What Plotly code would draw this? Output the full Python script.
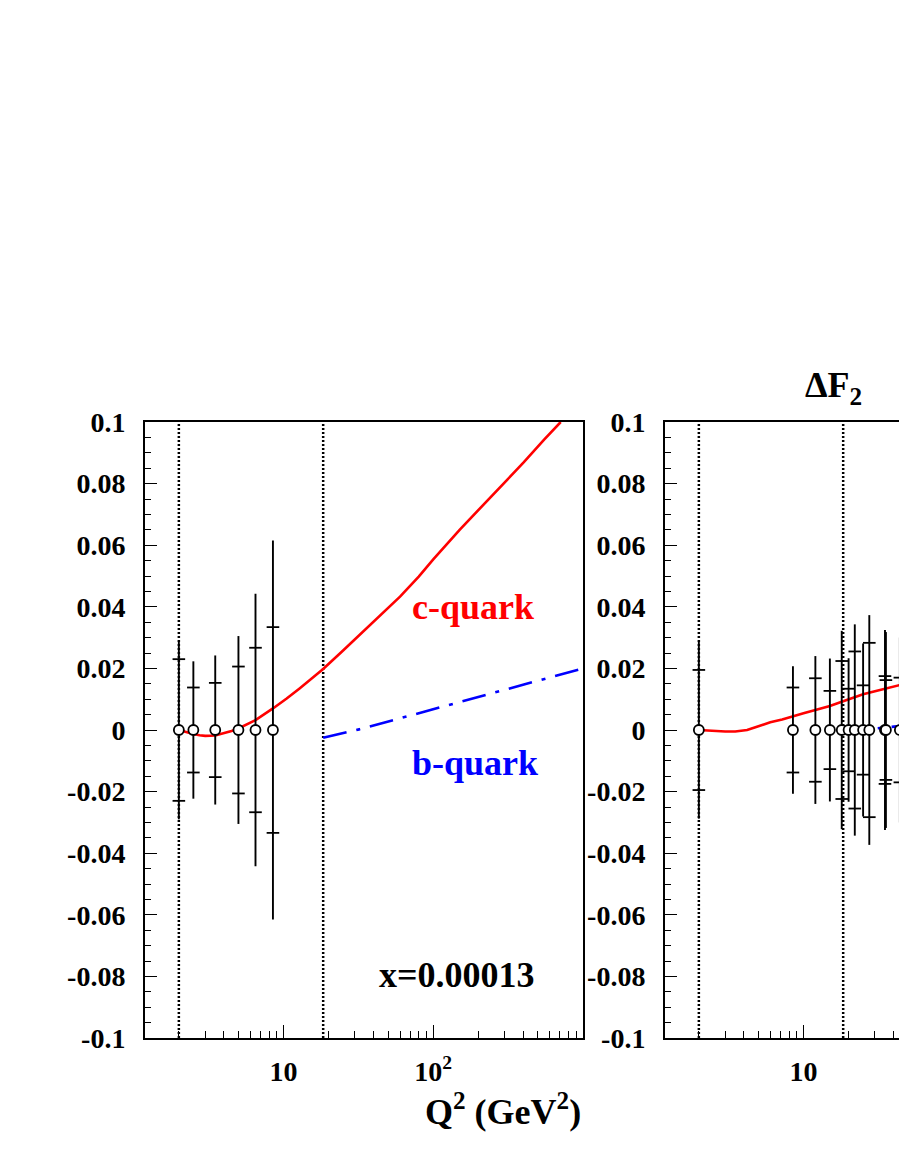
import numpy as np
import plotly.graph_objects as go

# ---------------- data ----------------
# left panel (x = 0.00013)
q2_left = [2.0, 2.5, 3.5, 5.0, 6.5, 8.5]
tot_left = [0.029, 0.0223, 0.0242, 0.0305, 0.0442, 0.0615]
stat_left = [0.023, 0.0138, 0.0153, 0.0206, 0.0267, 0.0334]
val_left = [0.0, 0.0, 0.0, 0.0, 0.0, 0.0]

c_q2_left = [2.0, 2.25, 2.5, 2.75, 3.0, 3.5, 4.0, 4.5, 5.0, 6.5, 8.5, 10.5, 12.8, 15.5, 18.4,
             25, 32, 45, 60, 80, 100, 150, 200, 285, 400, 550, 710]
c_left = [0.0, -0.0008, -0.0013, -0.0017, -0.0019, -0.0018, -0.0011, -0.0003, 0.0005, 0.0032,
          0.007, 0.0102, 0.0135, 0.0168, 0.0198, 0.0258, 0.0308, 0.0376, 0.0433, 0.0498,
          0.0554, 0.065, 0.0714, 0.079, 0.0868, 0.0943, 0.1]
b_q2_left = [18.4, 32, 141, 624, 1000]
b_left = [-0.0025, 0.0002, 0.0087, 0.0173, 0.020]

# right panel (cut off at the page edge)
q2_right = [2.0, 8.5, 12.0, 15.0, 18.0, 20.0, 22.0, 25.0, 27.5, 35.0, 35.5, 44.0]
tot_right = [0.0288, 0.0207, 0.024, 0.0232, 0.0322, 0.0233, 0.0343, 0.0281, 0.0373, 0.0325, 0.0318, 0.030]
stat_right = [0.0195, 0.0138, 0.0168, 0.0127, 0.0224, 0.0134, 0.0255, 0.0145, 0.0283, 0.0175, 0.0162, 0.017]
val_right = [0.0] * len(q2_right)

c_q2_right = [2.0, 2.5, 3.0, 3.5, 4.2, 5.0, 6.0, 7.2, 8.5, 10.0, 12.0, 15.0, 18.0, 21.0,
              25.0, 30.0, 35.0, 44.0]
c_right = [0.0, -0.0003, -0.0005, -0.0005, 0.0, 0.0012, 0.0025, 0.0034, 0.0043, 0.0054,
           0.0065, 0.0078, 0.0092, 0.0103, 0.0116, 0.0126, 0.0135, 0.0146]
b_q2_right = [18.6, 25.0, 35.0, 44.0]
b_right = [-0.0005, 0.0, 0.0008, 0.0013]

thresholds = [2.0, 18.4]
y_span = [-0.1, 0.1]

ytick_vals = [-0.1, -0.08, -0.06, -0.04, -0.02, 0.0, 0.02, 0.04, 0.06, 0.08, 0.1]
ytick_text = ["-0.1", "-0.08", "-0.06", "-0.04", "-0.02", "0", "0.02", "0.04", "0.06", "0.08", "0.1"]
xtick_vals = [10, 100]
xtick_text = ["10", "10<sup>2</sup>"]
xminor_vals = [2, 3, 4, 5, 6, 7, 8, 9, 20, 30, 40, 50, 60, 70, 80, 90,
               200, 300, 400, 500, 600, 700, 800, 900]

# ---------------- figure ----------------
W, H = 899, 1163
FONT = "Liberation Serif"
RED = "#ff0000"
BLUE = "#0000ff"

fig = go.Figure()


def add_panel(xa, ya, q2, val, tot, stat, cq2, cval, bq2, bval):
    for t in thresholds:
        fig.add_trace(go.Scatter(x=[t, t], y=y_span, mode="lines", xaxis=xa, yaxis=ya,
                                 line=dict(color="black", width=2.5, dash="2px,2px"),
                                 showlegend=False, hoverinfo="skip"))
    fig.add_trace(go.Scatter(x=cq2, y=cval, mode="lines", xaxis=xa, yaxis=ya,
                             line=dict(color=RED, width=2.6),
                             showlegend=False))
    fig.add_trace(go.Scatter(x=bq2, y=bval, mode="lines", xaxis=xa, yaxis=ya,
                             line=dict(color=BLUE, width=2.6, dash="24px,10px,4px,10px"),
                             showlegend=False))
    fig.add_trace(go.Scatter(x=q2, y=val, mode="markers", xaxis=xa, yaxis=ya,
                             error_y=dict(type="data", array=tot, visible=True,
                                          thickness=1.9, width=0, color="black"),
                             marker=dict(symbol="circle", size=10, color="white",
                                         line=dict(color="black", width=1.8)),
                             showlegend=False))
    st = np.array(stat)
    fig.add_trace(go.Scatter(x=list(q2) + list(q2), y=list(st) + list(-st),
                             mode="markers", xaxis=xa, yaxis=ya,
                             marker=dict(symbol="line-ew", size=9,
                                         line=dict(color="black", width=1.8)),
                             showlegend=False))


add_panel("x", "y", q2_left, val_left, tot_left, stat_left, c_q2_left, c_left, b_q2_left, b_left)
add_panel("x2", "y2", q2_right, val_right, tot_right, stat_right, c_q2_right, c_right, b_q2_right, b_right)

tickfont = dict(family=FONT, size=28, color="black", weight="bold")

decades = 2.925
px_per_dec = (583 - 145) / decades
right_max = 0.075 + (W - 665) / px_per_dec

xcommon = dict(type="log", showgrid=False, zeroline=False, showline=True, linecolor="black",
               linewidth=2, mirror=True, ticks="inside", ticklen=13, tickwidth=1.2,
               tickcolor="black", tickvals=xtick_vals, ticktext=xtick_text, tickfont=tickfont,
               ticklabelstandoff=7, automargin=False,
               minor=dict(tickmode="array", tickvals=xminor_vals, ticks="inside",
                          ticklen=7, tickwidth=1, tickcolor="black"))
ycommon = dict(range=[-0.1, 0.1], showgrid=False, zeroline=False, showline=True,
               linecolor="black", linewidth=2, ticks="inside", ticklen=12, tickwidth=1.2,
               tickcolor="black", tickvals=ytick_vals, ticktext=ytick_text, tickfont=tickfont,
               ticklabelstandoff=12, automargin=False,
               minor=dict(dtick=0.005, ticks="inside", ticklen=6, tickwidth=1, tickcolor="black"))

fig.update_layout(
    width=W, height=H, autosize=False,
    margin=dict(l=0, r=0, t=0, b=0, pad=0),
    paper_bgcolor="white", plot_bgcolor="white",
    xaxis=dict(xcommon, domain=[145 / W, 583 / W], range=[0.075, 3.0], anchor="y"),
    yaxis=dict(ycommon, domain=[1 - 1038 / H, 1 - 422 / H], anchor="x", mirror=True),
    xaxis2=dict(xcommon, domain=[665 / W, 1.0], range=[0.075, right_max], anchor="y2"),
    yaxis2=dict(ycommon, domain=[1 - 1038 / H, 1 - 422 / H], anchor="x2", mirror=False),
    showlegend=False,
)

lab = dict(family=FONT, size=36, weight="bold")
fig.add_annotation(text="c-quark", x=np.log10(185), y=0.0399, xref="x", yref="y",
                   showarrow=False, font=dict(lab, color=RED), xanchor="center", yanchor="middle")
fig.add_annotation(text="b-quark", x=np.log10(190), y=-0.0107, xref="x", yref="y",
                   showarrow=False, font=dict(lab, color=BLUE), xanchor="center", yanchor="middle")
fig.add_annotation(text="x=0.00013", x=np.log10(144), y=-0.0795, xref="x", yref="y",
                   showarrow=False, font=dict(lab, color="black"), xanchor="center", yanchor="middle")
fig.add_annotation(text="Q<sup>2</sup> (GeV<sup>2</sup>)", x=583 / W, y=1 - 1109 / H,
                   xref="paper", yref="paper", showarrow=False,
                   font=dict(lab, color="black"), xanchor="right", yanchor="middle")
fig.add_annotation(text="ΔF<sub>2</sub>", x=833 / W, y=1 - 387 / H,
                   xref="paper", yref="paper", showarrow=False,
                   font=dict(lab, color="black"), xanchor="center", yanchor="middle")

fig.write_html("out.html", config={"displayModeBar": False},
               post_script="document.body.style.margin='0';document.body.style.overflow='hidden';")
